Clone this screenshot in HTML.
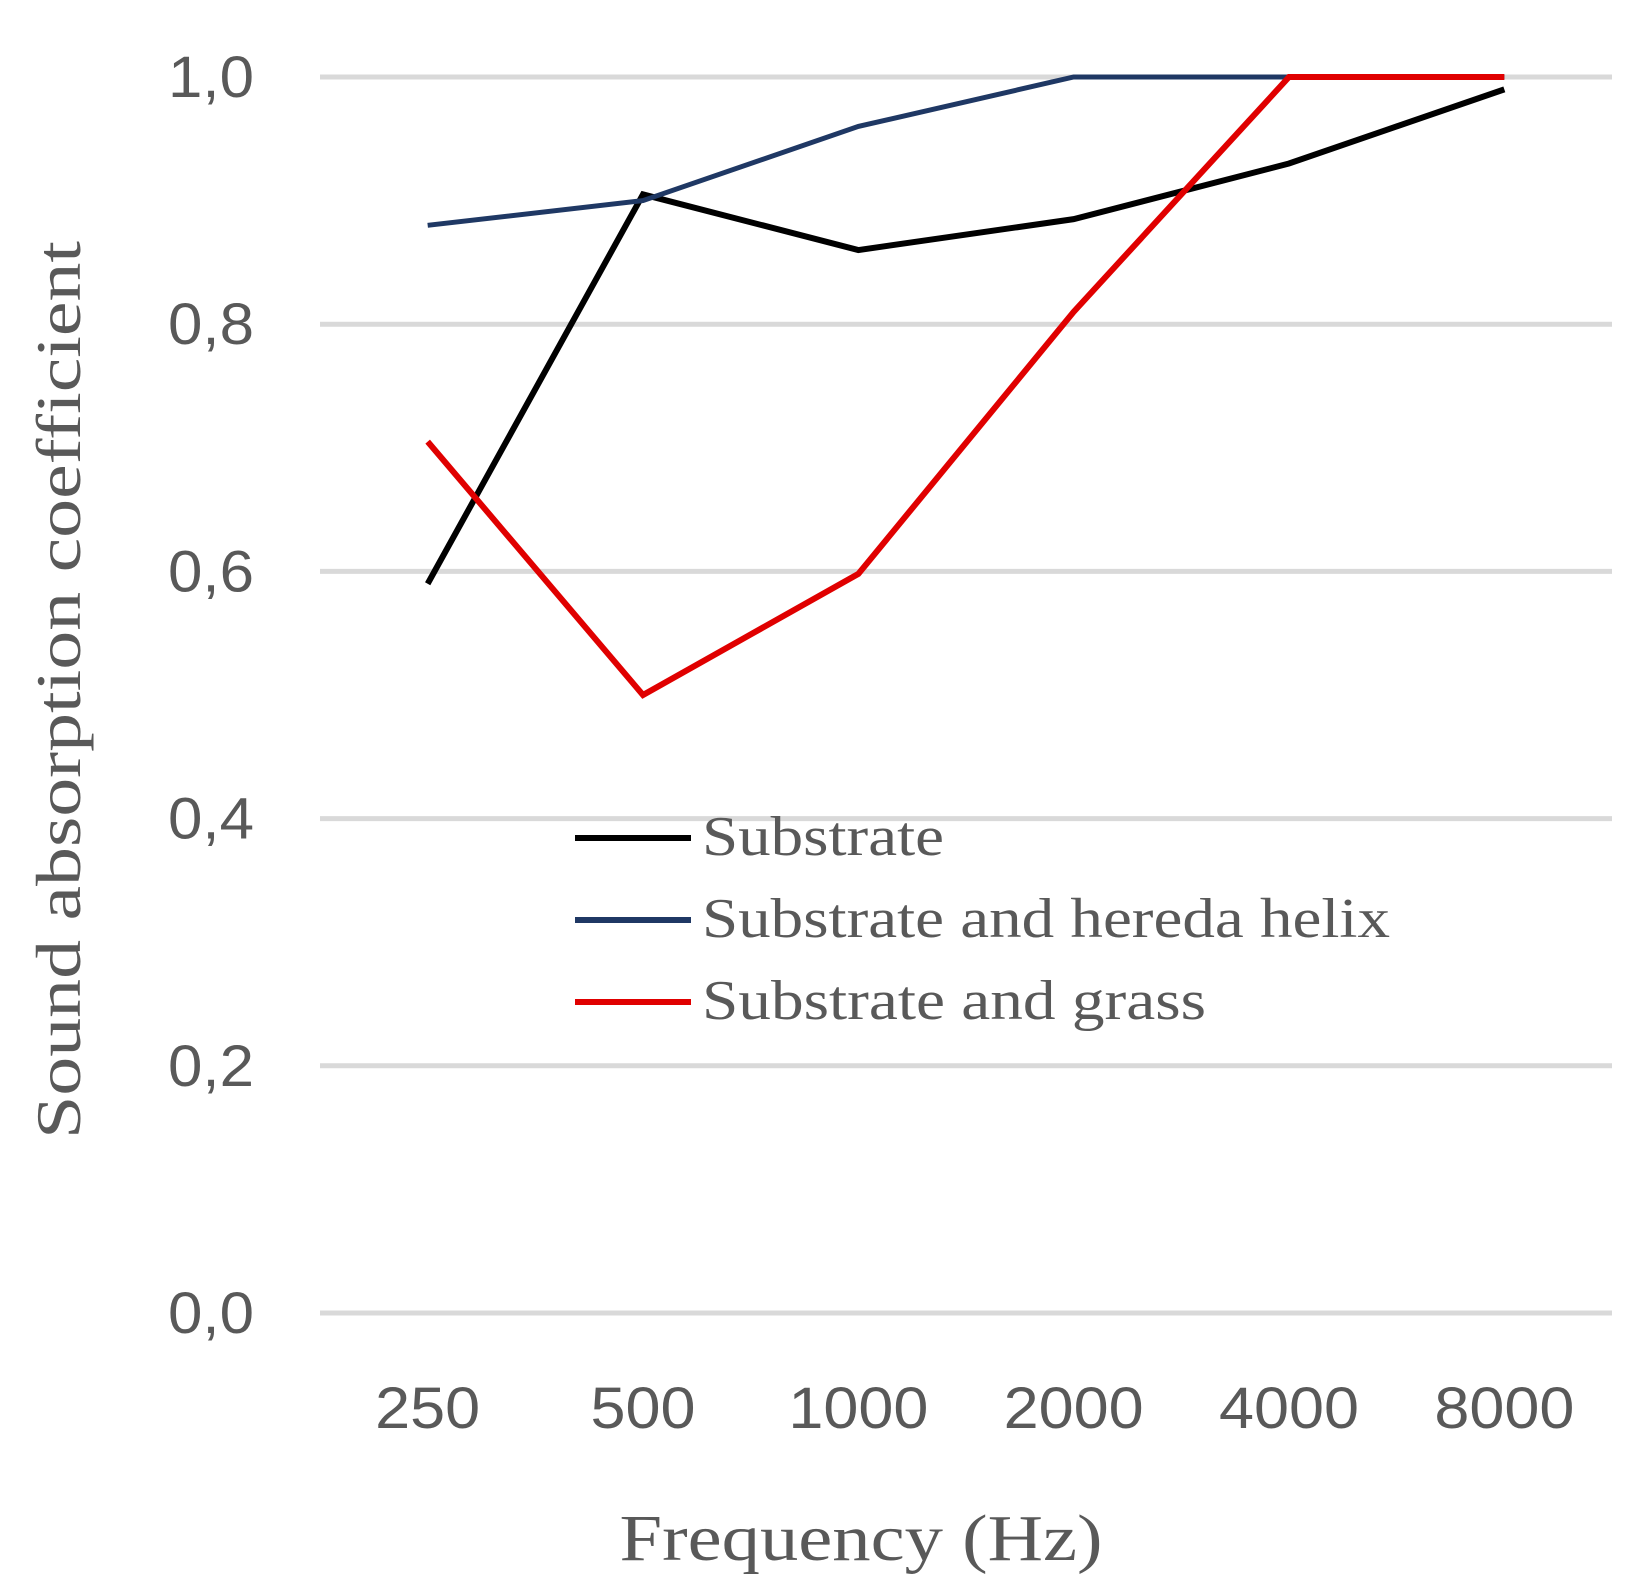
<!DOCTYPE html>
<html><head><meta charset="utf-8"><style>
html,body{margin:0;padding:0;background:#fff;}
svg{display:block;}
</style></head><body>
<svg id="chart" width="1644" height="1593" viewBox="0 0 1644 1593" xmlns="http://www.w3.org/2000/svg">
<g id="grid"></g>
<g id="yticks"></g>
<g id="xticks"></g>
<g id="series"></g>
<g id="legend"></g>
<text x="861" y="1560" text-anchor="middle" textLength="483" lengthAdjust="spacingAndGlyphs" font-family="'Liberation Serif',serif" font-size="66" fill="#595959">Frequency (Hz)</text>
<text transform="translate(80,690) rotate(-90)" text-anchor="middle" textLength="898" lengthAdjust="spacingAndGlyphs" font-family="'Liberation Serif',serif" font-size="64" fill="#595959">Sound absorption coefficient</text>
</svg>
<script>
const categories = ["250","500","1000","2000","4000","8000"];
const yTicks = [0,0.2,0.4,0.6,0.8,1.0];
const yTickLabels = ["0,0","0,2","0,4","0,6","0,8","1,0"];
const seriesNames = ["Substrate","Substrate and hereda helix","Substrate and grass"];
const substrate = [0.59,0.905,0.86,0.885,0.93,0.99];
const hederaHelix = [0.88,0.90,0.96,1.0,1.0,1.0];
const grass = [0.705,0.50,0.598,0.81,1.0,1.0];

const NS="http://www.w3.org/2000/svg";
const plotL=320, plotR=1612, y0=1313, y1=77;
const band=(plotR-plotL)/categories.length;
function xs(i){return plotL+band*(i+0.5);}
function ys(v){return y0-(y0-y1)*v;}
function mk(tag,attrs,parent){const e=document.createElementNS(NS,tag);for(const k in attrs)e.setAttribute(k,attrs[k]);parent.appendChild(e);return e;}

const grid=document.getElementById('grid');
const yt=document.getElementById('yticks');
yTicks.forEach((v,i)=>{
  const l=mk('line',{x1:plotL,x2:plotR,y1:ys(v),y2:ys(v),stroke:'#d9d9d9','stroke-width':5},grid);
  
  
  const t=mk('text',{x:254,y:ys(v)+20,'text-anchor':'end','font-family':"'Liberation Sans',sans-serif",'font-size':58,fill:'#595959',textLength:86,lengthAdjust:'spacingAndGlyphs'},yt);
  t.textContent=yTickLabels[i];
  
  
});
const xt=document.getElementById('xticks');
categories.forEach((c,i)=>{
  const t=mk('text',{x:xs(i),y:1428,'text-anchor':'middle','font-family':"'Liberation Sans',sans-serif",'font-size':58,fill:'#595959',textLength:c.length*35,lengthAdjust:'spacingAndGlyphs'},xt);
  t.textContent=c;
  
  
});
const colors=['#000000','#1f3864','#e00000'];
const widths=[6,5,6];
const sg=document.getElementById('series');
[substrate,hederaHelix,grass].forEach((arr,s)=>{
  const pts=arr.map((v,i)=>xs(i)+','+ys(v)).join(' ');
  const p=mk('polyline',{points:pts,fill:'none',stroke:colors[s],'stroke-width':widths[s],'stroke-linejoin':'miter'},sg);
  
  
});
const legendLens=[242,688,504];
const lg=document.getElementById('legend');
seriesNames.forEach((n,i)=>{
  const y=838+82*i;
  const l=mk('line',{x1:575,x2:691,y1:y,y2:y,stroke:colors[i],'stroke-width':6},lg);
  
  
  const t=mk('text',{x:702,y:y+17,'font-family':"'Liberation Serif',serif",'font-size':56,fill:'#595959',textLength:legendLens[i],lengthAdjust:'spacingAndGlyphs'},lg);
  t.textContent=n;
  
  
});
</script>
</body></html>
